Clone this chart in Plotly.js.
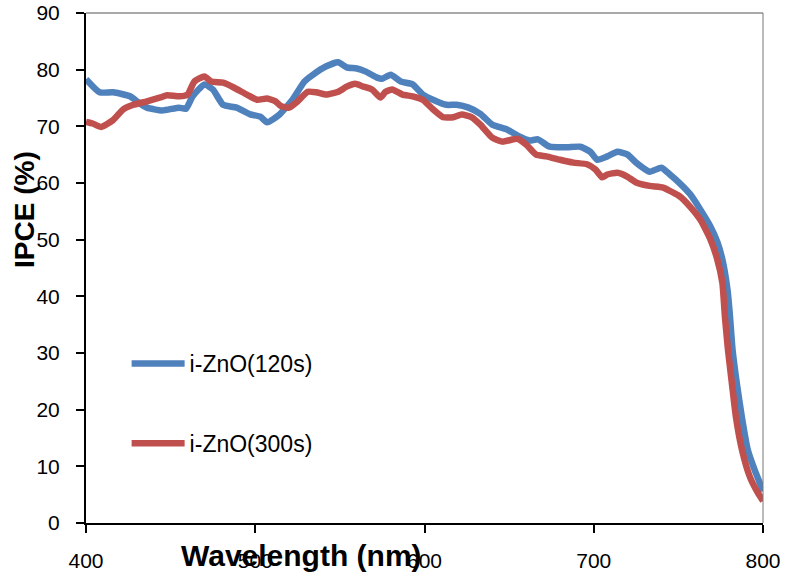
<!DOCTYPE html>
<html>
<head>
<meta charset="utf-8">
<script src="https://cdn.plot.ly/plotly-3.0.1.min.js"></script>
<style>html,body{margin:0;padding:0;background:#fff;}#chart{width:786px;height:584px;}</style>
</head>
<body>
<div id="chart"></div>
<script>
var seriesNames = ["i-ZnO(120s)", "i-ZnO(300s)"];
var xTickVals = [400, 500, 600, 700, 800];
var yTickVals = [0, 10, 20, 30, 40, 50, 60, 70, 80, 90];

var wl120 = [400,408,416,426,431,436,445,455,459,463,470,475,481,489,497,503,507,514,522,529,534,542,549,554,560,565,572,575,580,586,593,599,605,613,619,626,633,640,649,656,662,667,674,684,692,698,702,708,714,720,725,733,740,745,751,757,763,769,773,776,779,780.5,782,784.5,787.5,791,795,799,800];
var ipce120 = [78.3,76.0,76.0,75.3,74.2,73.3,72.8,73.3,73.1,75.3,77.4,76.5,73.8,73.3,72.1,71.7,70.7,72.0,74.7,77.9,79.1,80.6,81.3,80.4,80.2,79.7,78.6,78.4,79.1,77.9,77.4,75.6,74.7,73.8,73.8,73.3,72.2,70.3,69.4,68.2,67.5,67.7,66.4,66.3,66.4,65.5,64.1,64.7,65.5,65.0,63.6,62.0,62.7,61.5,59.9,58.0,55.3,52.3,49.6,46.5,41.2,36.4,30.6,24.7,18.7,12.9,9.4,6.4,5.6];

var wl300 = [400,404,409,416,422,428,436,444,448,455,460,464,470,474,481,487,495,501,507,512,515,520,525,531,536,542,549,554,559,564,569,574,577,581,587,593,599,605,611,617,622,628,633,640,646,655,660,666,672,680,688,696,701,705,708,714,720,725,733,741,747,751,757,763,769,773,776,777.5,779.3,781.6,784,787.6,792.3,797,800];
var ipce300 = [70.8,70.5,69.9,71.1,73.0,73.8,74.4,75.1,75.5,75.3,75.6,77.9,78.8,77.9,77.7,76.9,75.6,74.7,74.9,74.4,73.6,73.3,74.4,76.1,76.0,75.6,76.1,77.0,77.5,77.0,76.5,75.1,76.1,76.5,75.6,75.3,74.7,73.0,71.6,71.6,72.1,71.6,70.3,68.0,67.3,67.8,66.8,65.0,64.7,64.1,63.6,63.3,62.4,61.0,61.5,61.8,61.1,60.1,59.5,59.2,58.3,57.6,55.8,53.5,50.0,46.5,42.4,36.4,30.6,24.7,18.7,12.9,8.1,5.3,3.9];

var FONT = "'Liberation Sans', Arial, sans-serif";

var traces = [
  {x: wl120, y: ipce120, name: seriesNames[0], type: 'scatter', mode: 'lines',
   line: {color: '#4F81BD', width: 6.5, shape: 'spline', smoothing: 0.5}, legendgroup: 'a'},
  {x: wl300, y: ipce300, name: seriesNames[1], type: 'scatter', mode: 'lines',
   line: {color: '#C0504D', width: 6.5, shape: 'spline', smoothing: 0.5}, legendgroup: 'b'}
];

var layout = {
  width: 786, height: 584,
  margin: {l: 86, r: 23, t: 13, b: 61},
  paper_bgcolor: '#fff', plot_bgcolor: '#fff',
  font: {family: FONT, size: 21, color: '#000'},
  showlegend: true,
  legend: {x: 0.06, y: 0.355, xanchor: 'left', yanchor: 'top', bgcolor: 'rgba(0,0,0,0)',
           font: {family: FONT, size: 23, color: '#000'}, itemwidth: 53,
           traceorder: 'grouped', tracegroupgap: 47},
  xaxis: {range: [400, 800], tickvals: xTickVals, ticktext: xTickVals.map(String),
          showgrid: false, zeroline: false, showline: true, linecolor: '#000', linewidth: 2,
          ticks: 'outside', ticklen: 8, tickwidth: 2, tickcolor: '#000',
          ticklabelstandoff: 10, tickfont: {family: FONT, size: 21, color: '#000'}},
  yaxis: {range: [0, 90], tickvals: yTickVals, ticktext: yTickVals.map(String),
          showgrid: false, zeroline: false, showline: true, linecolor: '#000', linewidth: 2,
          ticks: 'outside', ticklen: 8, tickwidth: 2, tickcolor: '#000',
          ticklabelstandoff: 12, tickfont: {family: FONT, size: 21, color: '#000'}},
  shapes: [
    {type: 'line', xref: 'paper', yref: 'paper', x0: 0, x1: 1, y0: 1, y1: 1, line: {color: '#555', width: 1}},
    {type: 'line', xref: 'paper', yref: 'paper', x0: 1, x1: 1, y0: 0, y1: 1, line: {color: '#777', width: 1}}
  ],
  annotations: [
    {text: '<b>Wavelength (nm)</b>', xref: 'paper', yref: 'paper', x: 0.318, y: -0.063,
     xanchor: 'center', yanchor: 'middle', showarrow: false, font: {family: FONT, size: 30, color: '#000'}},
    {text: '<b>IPCE (%)</b>', xref: 'paper', yref: 'paper', x: -0.09, y: 0.614, textangle: -90,
     xanchor: 'center', yanchor: 'middle', showarrow: false, font: {family: FONT, size: 28, color: '#000'}}
  ]
};

Plotly.newPlot('chart', traces, layout, {staticPlot: true, displayModeBar: false});
</script>
</body>
</html>
